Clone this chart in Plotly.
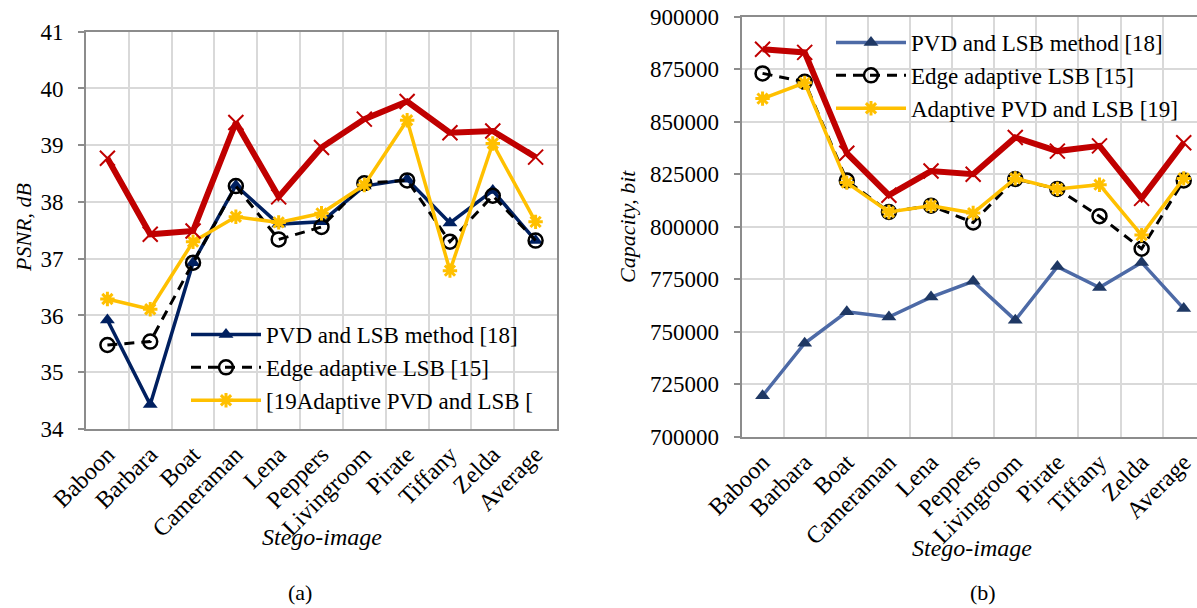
import plotly.graph_objects as go

W, H = 1197, 608

categories = ["Baboon", "Barbara", "Boat", "Cameraman", "Lena", "Peppers",
              "Livingroom", "Pirate", "Tiffany", "Zelda", "Average"]

# (a) PSNR, dB
psnr_proposed = [38.77, 37.43, 37.49, 39.40, 38.09, 38.96, 39.46, 39.77, 39.22, 39.25, 38.79]
psnr_pvd_lsb = [35.92, 34.43, 36.93, 38.29, 37.61, 37.65, 38.28, 38.40, 37.63, 38.20, 37.32]
psnr_edge = [35.48, 35.54, 36.93, 38.28, 37.34, 37.56, 38.33, 38.38, 37.30, 38.11, 37.32]
psnr_adaptive = [36.29, 36.11, 37.30, 37.74, 37.64, 37.80, 38.30, 39.44, 36.79, 39.03, 37.65]

# (b) Capacity, bit
cap_proposed = [884500, 883000, 835000, 815000, 826500, 825000, 842500, 836000, 838500, 813500, 840000]
cap_pvd_lsb = [719500, 744500, 759500, 757000, 766500, 774000, 755500, 781000, 771000, 783000, 761000]
cap_edge = [873000, 869000, 822000, 807000, 810000, 802000, 822700, 818000, 805000, 789500, 822000]
cap_adaptive = [861000, 868500, 821000, 807000, 810000, 806500, 823000, 818000, 820000, 796000, 823000]

names_a = ["PVD and LSB method [18]", "Edge adaptive LSB [15]", "[19Adaptive PVD and LSB ["]
names_b = ["PVD and LSB method [18]", "Edge adaptive LSB [15]", "Adaptive PVD and LSB [19]"]

FONT = "Liberation Serif"
RED = "#C00000"
NAVY = "#002060"
YELLOW = "#FFC000"
GRID = "#D9D9D9"
AXIS = "#8C8C8C"

fig = go.Figure()

def px_x(p):
    return p / W

def px_y(p):
    return 1 - p / H

# ---- left chart traces ----
fig.add_trace(go.Scatter(x=categories, y=psnr_pvd_lsb, name=names_a[0], mode="lines+markers",
                         line=dict(color=NAVY, width=3.5),
                         marker=dict(symbol="triangle-up", size=13, color=NAVY),
                         xaxis="x", yaxis="y", legend="legend"))
fig.add_trace(go.Scatter(x=categories, y=psnr_edge, name=names_a[1], mode="lines+markers",
                         line=dict(color="black", width=3, dash="10px,7px"),
                         marker=dict(symbol="circle-open", size=14, color="black", line=dict(width=2.5)),
                         xaxis="x", yaxis="y", legend="legend"))
fig.add_trace(go.Scatter(x=categories, y=psnr_adaptive, name=names_a[2], mode="lines+markers",
                         line=dict(color=YELLOW, width=3.5),
                         marker=dict(symbol="asterisk-open", size=12, color=YELLOW, line=dict(width=3, color=YELLOW)),
                         xaxis="x", yaxis="y", legend="legend"))
fig.add_trace(go.Scatter(x=categories, y=psnr_proposed, name="Proposed", mode="lines+markers",
                         line=dict(color=RED, width=6),
                         marker=dict(symbol="x-thin-open", size=15, color=RED, line=dict(width=2, color=RED)),
                         xaxis="x", yaxis="y", showlegend=False))

# ---- right chart traces ----
fig.add_trace(go.Scatter(x=categories, y=cap_pvd_lsb, name=names_b[0], mode="lines+markers",
                         line=dict(color="#4D6AA6", width=3.5),
                         marker=dict(symbol="triangle-up", size=13, color="#1F3864"),
                         xaxis="x2", yaxis="y2", legend="legend2"))
fig.add_trace(go.Scatter(x=categories, y=cap_edge, name=names_b[1], mode="lines+markers",
                         line=dict(color="black", width=3, dash="10px,7px"),
                         marker=dict(symbol="circle-open", size=14, color="black", line=dict(width=2.5)),
                         xaxis="x2", yaxis="y2", legend="legend2"))
fig.add_trace(go.Scatter(x=categories, y=cap_adaptive, name=names_b[2], mode="lines+markers",
                         line=dict(color=YELLOW, width=3.5),
                         marker=dict(symbol="asterisk-open", size=12, color=YELLOW, line=dict(width=3, color=YELLOW)),
                         xaxis="x2", yaxis="y2", legend="legend2"))
fig.add_trace(go.Scatter(x=categories, y=cap_proposed, name="Proposed", mode="lines+markers",
                         line=dict(color=RED, width=6),
                         marker=dict(symbol="x-thin-open", size=15, color=RED, line=dict(width=2, color=RED)),
                         xaxis="x2", yaxis="y2", showlegend=False))

tickfont = dict(family=FONT, size=24, color="black")
ytickfont = dict(family=FONT, size=23, color="black")

xcommon = dict(type="category", tickson="boundaries", showgrid=True, gridcolor=GRID, gridwidth=1.5,
               showline=True, linecolor=AXIS, linewidth=2, ticks="", tickangle=-45,
               tickfont=tickfont, zeroline=False, automargin=False)
ycommon = dict(showgrid=True, gridcolor=GRID, gridwidth=1.5, showline=True, linecolor=AXIS,
               linewidth=2, ticks="outside", ticklen=6, tickwidth=2, tickcolor=AXIS,
               tickfont=ytickfont, zeroline=False, automargin=False, ticklabelstandoff=10)

fig.update_layout(
    width=W, height=H,
    margin=dict(l=0, r=0, t=0, b=0),
    paper_bgcolor="white", plot_bgcolor="white",
    font=dict(family=FONT, color="black"),
    xaxis=dict(domain=[px_x(86), px_x(557)], anchor="y", range=[-0.5, 10.5], mirror=True, **xcommon),
    yaxis=dict(domain=[px_y(429), px_y(31.7)], anchor="x", range=[34, 41], dtick=1, mirror=True, **ycommon),
    xaxis2=dict(domain=[px_x(741.5), 1.0], anchor="y2", range=[-0.5, 10.315], mirror=True, **xcommon),
    yaxis2=dict(domain=[px_y(436.7), px_y(16.7)], anchor="x2", range=[700000, 900000], dtick=25000,
                tickformat="d", mirror=False, **ycommon),
    legend=dict(x=px_x(186), y=px_y(313), xanchor="left", yanchor="top", bgcolor="rgba(0,0,0,0)",
                font=dict(family=FONT, size=23, color="black"), itemwidth=70, tracegroupgap=0),
    legend2=dict(x=px_x(831), y=px_y(21), xanchor="left", yanchor="top", bgcolor="rgba(0,0,0,0)",
                 font=dict(family=FONT, size=23, color="black"), itemwidth=70, tracegroupgap=0),
    annotations=[
        dict(text="<i>Stego-image</i>", x=px_x(321.5), y=px_y(537), xref="paper", yref="paper",
             showarrow=False, font=dict(family=FONT, size=24), xanchor="center", yanchor="middle"),
        dict(text="<i>Stego-image</i>", x=px_x(972), y=px_y(548), xref="paper", yref="paper",
             showarrow=False, font=dict(family=FONT, size=24), xanchor="center", yanchor="middle"),
        dict(text="<i>PSNR, dB</i>", x=px_x(23), y=px_y(228), xref="paper", yref="paper",
             showarrow=False, textangle=-90, font=dict(family=FONT, size=22), xanchor="center", yanchor="middle"),
        dict(text="<i>Capacity, bit</i>", x=px_x(628), y=px_y(227), xref="paper", yref="paper",
             showarrow=False, textangle=-90, font=dict(family=FONT, size=22), xanchor="center", yanchor="middle"),
        dict(text="(a)", x=px_x(300), y=px_y(592), xref="paper", yref="paper",
             showarrow=False, font=dict(family=FONT, size=22), xanchor="center", yanchor="middle"),
        dict(text="(b)", x=px_x(983), y=px_y(592), xref="paper", yref="paper",
             showarrow=False, font=dict(family=FONT, size=22), xanchor="center", yanchor="middle"),
    ],
)

fig.write_html("out.html", config={"displayModeBar": False},
               post_script="document.body.style.margin='0';document.body.style.overflow='hidden';")
